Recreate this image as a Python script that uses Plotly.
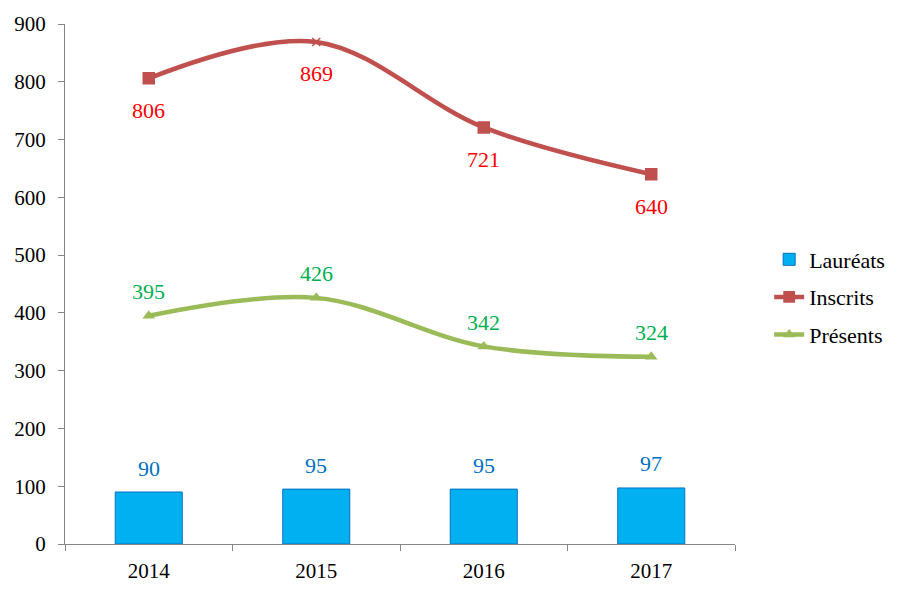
import plotly.graph_objects as go

years = ["2014", "2015", "2016", "2017"]
laureats = [90, 95, 95, 97]
inscrits = [806, 869, 721, 640]
presents = [395, 426, 342, 324]
y_ticks = [0, 100, 200, 300, 400, 500, 600, 700, 800, 900]

FONT = "Book Antiqua, Palatino Linotype, Liberation Serif, serif"

fig = go.Figure()
fig.add_trace(go.Bar(
    x=years, y=laureats, name="Lauréats", width=0.4, legendgroup="a",
    marker=dict(color="#00B0F0", line=dict(color="#0070C0", width=1)),
))
fig.add_trace(go.Scatter(
    x=years, y=inscrits, name="Inscrits", mode="lines+markers", legendgroup="b",
    line=dict(color="#C0504D", width=4.5, shape="spline", smoothing=1.0),
    marker=dict(symbol=["square", "x-thin", "square", "square"], size=[11, 8, 11, 11],
                color="#C0504D", opacity=1, line=dict(color="#C0504D", width=1.5)),
))
fig.add_trace(go.Scatter(
    x=years, y=presents, name="Présents", mode="lines+markers", legendgroup="c",
    line=dict(color="#9BBB59", width=4.5, shape="spline", smoothing=1.0),
    marker=dict(symbol="triangle-up", size=11, color="#9BBB59", opacity=1),
))

for i, v in enumerate(laureats):
    fig.add_annotation(x=i, y=v, xref="x", yref="y", text=str(v), showarrow=False,
                       yshift=24, font=dict(color="#0070C0", size=22, family=FONT))
for i, v in enumerate(inscrits):
    fig.add_annotation(x=i, y=v, xref="x", yref="y", text=str(v), showarrow=False,
                       yshift=-32, font=dict(color="#FF0000", size=22, family=FONT))
for i, v in enumerate(presents):
    fig.add_annotation(x=i, y=v, xref="x", yref="y", text=str(v), showarrow=False,
                       yshift=24, font=dict(color="#00B050", size=22, family=FONT))

fig.update_layout(
    width=914, height=597,
    margin=dict(l=57, r=187, t=16, b=61, autoexpand=False),
    plot_bgcolor="white", paper_bgcolor="white",
    font=dict(family=FONT, size=21, color="black"),
    showlegend=True,
    legend=dict(x=1.051, y=0.475, xanchor="left", yanchor="middle",
                font=dict(size=22), tracegroupgap=6, itemwidth=30,
                bgcolor="rgba(0,0,0,0)"),
    bargap=0.6,
)
fig.update_xaxes(
    type="category", range=[-0.5, 3.5], tickson="boundaries",
    ticks="outside", ticklen=6, tickcolor="#868686", ticklabelstandoff=8,
    showline=True, linecolor="#868686", linewidth=1,
    showgrid=False, tickfont=dict(size=21, family=FONT), automargin=False,
)
fig.update_yaxes(
    range=[0, 900], tickvals=y_ticks, ticks="outside", ticklen=6,
    tickcolor="#868686", ticklabelstandoff=8, showline=True, linecolor="#868686", linewidth=1,
    showgrid=False, zeroline=False, tickfont=dict(size=21, family=FONT), automargin=False,
)

fig.write_html("out.html")
